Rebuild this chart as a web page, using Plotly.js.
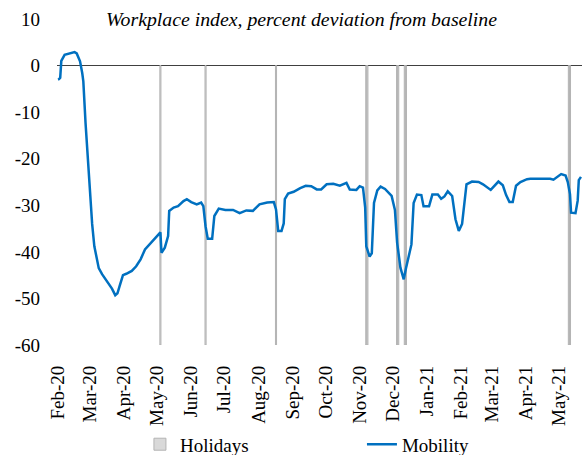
<!DOCTYPE html>
<html>
<head>
<meta charset="utf-8">
<script src="https://cdn.plot.ly/plotly-3.0.1.min.js"></script>
<style>
  html, body { margin: 0; padding: 0; background: #fff; }
  #chart { width: 582px; height: 455px; }
</style>
</head>
<body>
<div id="chart"></div>
<script>
// Mobility: workplace index, percent deviation from baseline
const mobilityDates = [
  "2020-02-15","2020-02-16","2020-02-17","2020-02-18","2020-02-21","2020-02-24","2020-02-27",
  "2020-03-01","2020-03-03","2020-03-06","2020-03-08","2020-03-09","2020-03-11","2020-03-13",
  "2020-03-15","2020-03-17","2020-03-19","2020-03-21","2020-03-23","2020-03-26","2020-03-29",
  "2020-04-01","2020-04-04","2020-04-07","2020-04-09","2020-04-11","2020-04-14","2020-04-17",
  "2020-04-22","2020-04-26","2020-04-30","2020-05-04","2020-05-09","2020-05-13","2020-05-18",
  "2020-05-19","2020-05-22","2020-05-25","2020-05-26","2020-05-30","2020-06-03","2020-06-08",
  "2020-06-11","2020-06-15","2020-06-20","2020-06-24","2020-06-26","2020-06-28","2020-06-30",
  "2020-07-04","2020-07-06","2020-07-10","2020-07-16","2020-07-23","2020-07-29","2020-08-04",
  "2020-08-10","2020-08-16","2020-08-23","2020-08-29","2020-08-31","2020-09-02","2020-09-05",
  "2020-09-07","2020-09-08","2020-09-11","2020-09-16","2020-09-22","2020-09-27","2020-10-02",
  "2020-10-07","2020-10-11","2020-10-16","2020-10-22","2020-10-28","2020-11-03","2020-11-06",
  "2020-11-12","2020-11-15","2020-11-18","2020-11-20","2020-11-21","2020-11-24","2020-11-26",
  "2020-11-28","2020-12-01","2020-12-04","2020-12-08","2020-12-11","2020-12-14","2020-12-17",
  "2020-12-19","2020-12-22","2020-12-25","2020-12-27","2020-12-29","2021-01-01","2021-01-03",
  "2021-01-06","2021-01-10","2021-01-12","2021-01-17","2021-01-20","2021-01-25","2021-01-28",
  "2021-01-31","2021-02-03","2021-02-07","2021-02-10","2021-02-13","2021-02-16","2021-02-20",
  "2021-02-25","2021-03-03","2021-03-07","2021-03-14","2021-03-21","2021-03-25","2021-03-28",
  "2021-03-31","2021-04-03","2021-04-06","2021-04-10","2021-04-16","2021-04-19","2021-04-30",
  "2021-05-07","2021-05-10","2021-05-14","2021-05-17","2021-05-21","2021-05-23","2021-05-25",
  "2021-05-26","2021-05-30","2021-06-01","2021-06-02","2021-06-04"
];
const mobilityValues = [
  -3.0,-2.9,-2.6,1.0,2.3,2.5,2.6,
  2.9,2.6,0.9,-1.6,-3.4,-12.3,-19.5,
  -27.3,-34.0,-38.8,-41.6,-43.5,-44.8,-45.9,
  -47.0,-47.9,-49.3,-48.9,-47.3,-45.0,-44.7,
  -44.1,-43.1,-41.6,-39.5,-38.2,-37.2,-35.8,
  -40.2,-39.1,-36.6,-31.2,-30.5,-30.2,-29.1,
  -28.7,-29.3,-29.8,-29.4,-30.2,-34.5,-37.2,
  -37.2,-32.3,-30.7,-31.0,-31.0,-31.7,-31.1,
  -31.2,-29.8,-29.4,-29.3,-30.9,-35.5,-35.5,
  -33.9,-28.7,-27.5,-27.1,-26.3,-25.8,-25.9,
  -26.6,-26.6,-25.5,-25.4,-25.8,-25.2,-26.6,
  -26.7,-25.9,-26.2,-30.5,-38.8,-41.0,-40.3,
  -29.5,-26.8,-26.0,-26.5,-27.3,-28.0,-31.0,
  -38.0,-43.4,-45.9,-43.6,-41.5,-38.4,-29.5,
  -27.7,-27.8,-30.2,-30.2,-27.7,-27.7,-28.6,
  -28.1,-27.0,-28.0,-33.0,-35.5,-34.0,-25.5,
  -24.9,-25.0,-25.5,-26.7,-24.9,-25.7,-27.8,
  -29.3,-29.3,-25.8,-25.0,-24.4,-24.3,-24.3,
  -24.3,-24.5,-23.7,-23.3,-23.6,-25.0,-27.6,
  -31.6,-31.7,-29.0,-24.6,-23.9
];

// Holidays (drawn as columns reaching the bottom of the scale)
const holidayDates = [
  "2020-05-18","2020-06-28","2020-08-31","2020-11-21","2020-11-22",
  "2020-12-19","2020-12-20","2020-12-26","2020-12-27","2021-05-24","2021-05-25"
];
const holidayValues = holidayDates.map(() => -60);

// Y-axis ticks (hyphen minus as in the original)
const yTickValues = [10, 0, -10, -20, -30, -40, -50, -60];
const yTickLabels = ["10", "0", "-10", "-20", "-30", "-40", "-50", "-60"];

const titleText = "Workplace index, percent deviation from baseline";
const seriesNames = ["Holidays", "Mobility"];

const serif = "Liberation Serif, Times New Roman, Times, serif";
const DAY = 86400000;

const traces = [
  {
    type: "bar",
    name: seriesNames[0],
    x: holidayDates,
    y: holidayValues,
    width: holidayDates.map(() => DAY),
    marker: { color: "#d9d9d9", line: { color: "#b3b3b3", width: 1 } },
    hoverinfo: "skip"
  },
  {
    type: "scatter",
    mode: "lines",
    name: seriesNames[1],
    x: mobilityDates,
    y: mobilityValues,
    line: { color: "#0070c0", width: 2.5, shape: "linear" },
    hoverinfo: "skip"
  }
];

const layout = {
  width: 582,
  height: 455,
  margin: { l: 57, r: 0, t: 19, b: 110, pad: 0, autoexpand: false },
  paper_bgcolor: "#ffffff",
  plot_bgcolor: "#ffffff",
  showlegend: true,
  font: { family: serif, size: 19, color: "#000000" },
  title: {
    text: "<i>" + titleText + "</i>",
    font: { family: serif, size: 19.8, color: "#000000", style: "italic" },
    xref: "container", x: 0.518, xanchor: "center",
    yref: "container", y: 0.957, yanchor: "middle"
  },
  xaxis: {
    type: "date",
    range: ["2020-02-14 02:00", "2021-06-04 22:00"],
    tick0: "2020-02-15",
    dtick: "M1",
    tickformat: "%b-%y",
    tickangle: -90,
    ticks: "",
    showgrid: false,
    showline: false,
    zeroline: false,
    ticklabelstandoff: 16,
    tickfont: { family: serif, size: 19, color: "#000000" },
    fixedrange: true
  },
  yaxis: {
    range: [-60, 10],
    tickmode: "array",
    tickvals: yTickValues,
    ticktext: yTickLabels,
    ticks: "",
    showgrid: false,
    showline: false,
    zeroline: true,
    zerolinecolor: "#404040",
    zerolinewidth: 1.5,
    ticklabelstandoff: 16,
    tickfont: { family: serif, size: 19, color: "#000000" },
    fixedrange: true
  },
  bargap: 0,
  legend: {
    orientation: "h",
    x: 0.158, xanchor: "left",
    y: -0.2465, yanchor: "top",
    entrywidth: 177,
    font: { family: serif, size: 19, color: "#000000" },
    bgcolor: "rgba(0,0,0,0)",
    borderwidth: 0
  },
  hovermode: false
};

Plotly.newPlot("chart", traces, layout, { displayModeBar: false, staticPlot: true });
</script>
</body>
</html>
